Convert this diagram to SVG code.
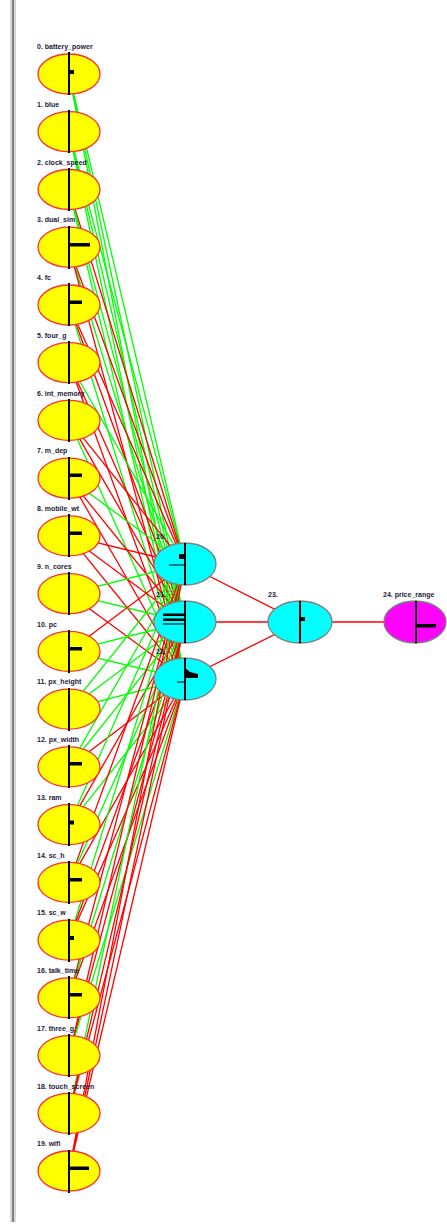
<svg xmlns="http://www.w3.org/2000/svg" width="447" height="1224" viewBox="0 0 447 1224">
<style>
.bg{fill:#ffffff}
.g{stroke:#00ff00;stroke-width:1.3;fill:none}
.r{stroke:#ff0000;stroke-width:1.3;fill:none}
.in{fill:#ffff00;stroke:#ff3030;stroke-width:1.3}
.hid{fill:#00ffff;stroke:#808080;stroke-width:1.3}
.out{fill:#ff00ff;stroke:#808080;stroke-width:1.3}
.v{stroke:#000;stroke-width:2}
.b{fill:#000}
.t{font-family:"Liberation Sans",Arial,sans-serif;font-size:7px;font-weight:bold;fill:#1a1a3a}
</style>
<rect class="bg" x="0" y="0" width="447" height="1224"/>
<rect x="10" y="0" width="6" height="1222" fill="#d8d8d8"/>
<line x1="13" y1="0" x2="13" y2="1222" stroke="#808080" stroke-width="2"/>
<g id="connectors">
<line class="g" x1="69" y1="74" x2="185" y2="564"/><line class="g" x1="69" y1="74" x2="185" y2="622"/><line class="g" x1="69" y1="74" x2="185" y2="679"/>
<line class="g" x1="69" y1="131.7" x2="185" y2="564"/><line class="g" x1="69" y1="131.7" x2="185" y2="622"/><line class="g" x1="69" y1="131.7" x2="185" y2="679"/>
<line class="r" x1="69" y1="189.5" x2="185" y2="564"/><line class="g" x1="69" y1="189.5" x2="185" y2="622"/><line class="g" x1="69" y1="189.5" x2="185" y2="679"/>
<line class="r" x1="69" y1="247.2" x2="185" y2="564"/><line class="g" x1="69" y1="247.2" x2="185" y2="622"/><line class="r" x1="69" y1="247.2" x2="185" y2="679"/>
<line class="r" x1="69" y1="305" x2="185" y2="564"/><line class="r" x1="69" y1="305" x2="185" y2="622"/><line class="g" x1="69" y1="305" x2="185" y2="679"/>
<line class="g" x1="69" y1="362.7" x2="185" y2="564"/><line class="r" x1="69" y1="362.7" x2="185" y2="622"/><line class="r" x1="69" y1="362.7" x2="185" y2="679"/>
<line class="r" x1="69" y1="420.4" x2="185" y2="564"/><line class="r" x1="69" y1="420.4" x2="185" y2="622"/><line class="g" x1="69" y1="420.4" x2="185" y2="679"/>
<line class="g" x1="69" y1="478.2" x2="185" y2="564"/><line class="r" x1="69" y1="478.2" x2="185" y2="622"/><line class="r" x1="69" y1="478.2" x2="185" y2="679"/>
<line class="r" x1="69" y1="535.9" x2="185" y2="564"/><line class="r" x1="69" y1="535.9" x2="185" y2="622"/><line class="r" x1="69" y1="535.9" x2="185" y2="679"/>
<line class="g" x1="69" y1="593.7" x2="185" y2="564"/><line class="g" x1="69" y1="593.7" x2="185" y2="622"/><line class="r" x1="69" y1="593.7" x2="185" y2="679"/>
<line class="r" x1="69" y1="651.4" x2="185" y2="564"/><line class="g" x1="69" y1="651.4" x2="185" y2="622"/><line class="g" x1="69" y1="651.4" x2="185" y2="679"/>
<line class="g" x1="69" y1="709.1" x2="185" y2="564"/><line class="g" x1="69" y1="709.1" x2="185" y2="622"/><line class="g" x1="69" y1="709.1" x2="185" y2="679"/>
<line class="g" x1="69" y1="766.9" x2="185" y2="564"/><line class="g" x1="69" y1="766.9" x2="185" y2="622"/><line class="r" x1="69" y1="766.9" x2="185" y2="679"/>
<line class="g" x1="69" y1="824.6" x2="185" y2="564"/><line class="r" x1="69" y1="824.6" x2="185" y2="622"/><line class="g" x1="69" y1="824.6" x2="185" y2="679"/>
<line class="r" x1="69" y1="882.4" x2="185" y2="564"/><line class="g" x1="69" y1="882.4" x2="185" y2="622"/><line class="r" x1="69" y1="882.4" x2="185" y2="679"/>
<line class="g" x1="69" y1="940.1" x2="185" y2="564"/><line class="r" x1="69" y1="940.1" x2="185" y2="622"/><line class="r" x1="69" y1="940.1" x2="185" y2="679"/>
<line class="r" x1="69" y1="997.8" x2="185" y2="564"/><line class="g" x1="69" y1="997.8" x2="185" y2="622"/><line class="r" x1="69" y1="997.8" x2="185" y2="679"/>
<line class="r" x1="69" y1="1055.6" x2="185" y2="564"/><line class="r" x1="69" y1="1055.6" x2="185" y2="622"/><line class="g" x1="69" y1="1055.6" x2="185" y2="679"/>
<line class="g" x1="69" y1="1113.3" x2="185" y2="564"/><line class="r" x1="69" y1="1113.3" x2="185" y2="622"/><line class="r" x1="69" y1="1113.3" x2="185" y2="679"/>
<line class="r" x1="69" y1="1171" x2="185" y2="564"/><line class="r" x1="69" y1="1171" x2="185" y2="622"/><line class="r" x1="69" y1="1171" x2="185" y2="679"/>
<line class="r" x1="185" y1="564" x2="300" y2="622"/><line class="r" x1="185" y1="622" x2="300" y2="622"/><line class="r" x1="185" y1="679" x2="300" y2="622"/>
<line class="r" x1="300" y1="622" x2="415" y2="622"/>
</g>
<g id="node0"><ellipse class="in" cx="69" cy="74" rx="31" ry="20"/><line class="v" x1="69" y1="52" x2="69" y2="95"/><rect class="b" x="69" y="70" width="5" height="4"/><text class="t" x="37" y="49">0. battery_power</text></g>
<g id="node1"><ellipse class="in" cx="69" cy="131.7" rx="31" ry="20"/><line class="v" x1="69" y1="110" x2="69" y2="153"/><text class="t" x="37" y="106.5">1. blue</text></g>
<g id="node2"><ellipse class="in" cx="69" cy="189.5" rx="31" ry="20"/><line class="v" x1="69" y1="168" x2="69" y2="211"/><text class="t" x="37" y="164.5">2. clock_speed</text></g>
<g id="node3"><ellipse class="in" cx="69" cy="247.2" rx="31" ry="20"/><line class="v" x1="69" y1="226" x2="69" y2="269"/><rect class="b" x="69" y="243" width="21" height="3.5"/><text class="t" x="37" y="222">3. dual_sim</text></g>
<g id="node4"><ellipse class="in" cx="69" cy="305" rx="31" ry="20"/><line class="v" x1="69" y1="283" x2="69" y2="326"/><rect class="b" x="69" y="300.5" width="13" height="3.5"/><text class="t" x="37" y="280">4. fc</text></g>
<g id="node5"><ellipse class="in" cx="69" cy="362.7" rx="31" ry="20"/><line class="v" x1="69" y1="341" x2="69" y2="384"/><text class="t" x="37" y="337.5">5. four_g</text></g>
<g id="node6"><ellipse class="in" cx="69" cy="420.4" rx="31" ry="20"/><line class="v" x1="69" y1="399" x2="69" y2="442"/><text class="t" x="37" y="395.5">6. int_memory</text></g>
<g id="node7"><ellipse class="in" cx="69" cy="478.2" rx="31" ry="20"/><line class="v" x1="69" y1="457" x2="69" y2="500"/><rect class="b" x="69" y="473.5" width="13" height="3.5"/><text class="t" x="37" y="453">7. m_dep</text></g>
<g id="node8"><ellipse class="in" cx="69" cy="535.9" rx="31" ry="20"/><line class="v" x1="69" y1="514" x2="69" y2="557"/><rect class="b" x="69" y="531.5" width="13" height="3.5"/><text class="t" x="37" y="511">8. mobile_wt</text></g>
<g id="node9"><ellipse class="in" cx="69" cy="593.7" rx="31" ry="20"/><line class="v" x1="69" y1="572" x2="69" y2="615"/><text class="t" x="37" y="568.5">9. n_cores</text></g>
<g id="node10"><ellipse class="in" cx="69" cy="651.4" rx="31" ry="20"/><line class="v" x1="69" y1="630" x2="69" y2="673"/><rect class="b" x="69" y="647" width="13" height="3.5"/><text class="t" x="37" y="626.5">10. pc</text></g>
<g id="node11"><ellipse class="in" cx="69" cy="709.1" rx="31" ry="20"/><line class="v" x1="69" y1="688" x2="69" y2="731"/><text class="t" x="37" y="684">11. px_height</text></g>
<g id="node12"><ellipse class="in" cx="69" cy="766.9" rx="31" ry="20"/><line class="v" x1="69" y1="745" x2="69" y2="788"/><rect class="b" x="69" y="762" width="13" height="3.5"/><text class="t" x="37" y="742">12. px_width</text></g>
<g id="node13"><ellipse class="in" cx="69" cy="824.6" rx="31" ry="20"/><line class="v" x1="69" y1="803" x2="69" y2="846"/><rect class="b" x="69" y="820.5" width="5" height="4"/><text class="t" x="37" y="799.5">13. ram</text></g>
<g id="node14"><ellipse class="in" cx="69" cy="882.4" rx="31" ry="20"/><line class="v" x1="69" y1="861" x2="69" y2="904"/><rect class="b" x="69" y="878" width="13" height="3.5"/><text class="t" x="37" y="857.5">14. sc_h</text></g>
<g id="node15"><ellipse class="in" cx="69" cy="940.1" rx="31" ry="20"/><line class="v" x1="69" y1="919" x2="69" y2="962"/><rect class="b" x="69" y="936" width="5" height="4"/><text class="t" x="37" y="915">15. sc_w</text></g>
<g id="node16"><ellipse class="in" cx="69" cy="997.8" rx="31" ry="20"/><line class="v" x1="69" y1="976" x2="69" y2="1019"/><rect class="b" x="69" y="993" width="13" height="3.5"/><text class="t" x="37" y="973">16. talk_time</text></g>
<g id="node17"><ellipse class="in" cx="69" cy="1055.6" rx="31" ry="20"/><line class="v" x1="69" y1="1034" x2="69" y2="1077"/><text class="t" x="37" y="1030.5">17. three_g</text></g>
<g id="node18"><ellipse class="in" cx="69" cy="1113.3" rx="31" ry="20"/><line class="v" x1="69" y1="1092" x2="69" y2="1135"/><text class="t" x="37" y="1088.5">18. touch_screen</text></g>
<g id="node19"><ellipse class="in" cx="69" cy="1171" rx="31" ry="20"/><line class="v" x1="69" y1="1150" x2="69" y2="1193"/><rect class="b" x="69" y="1166.5" width="20" height="3.5"/><text class="t" x="37" y="1146">19. wifi</text></g>
<g id="node20"><ellipse class="hid" cx="185" cy="564" rx="31" ry="21"/><line class="v" x1="185" y1="543" x2="185" y2="585"/><line x1="169" y1="565" x2="185" y2="565" stroke="#000" stroke-width="1"/><rect class="b" x="179" y="554" width="6" height="5"/><text class="t" x="156" y="539">20.</text></g>
<g id="node21"><ellipse class="hid" cx="185" cy="622" rx="31" ry="21"/><line class="v" x1="185" y1="601" x2="185" y2="643"/><rect class="b" x="163" y="613.5" width="22" height="2.5"/><rect class="b" x="163" y="618.5" width="22" height="2.5"/><line x1="163" y1="624" x2="185" y2="624" stroke="#000" stroke-width="1"/><text class="t" x="156" y="597">21.</text></g>
<g id="node22"><ellipse class="hid" cx="185" cy="679" rx="31" ry="21"/><line class="v" x1="185" y1="658" x2="185" y2="700"/><line x1="177" y1="682" x2="185" y2="682" stroke="#000" stroke-width="1"/><polygon class="b" points="185,668 190,672 198,674 198,678 185,678"/><text class="t" x="156" y="654">22.</text></g>
<g id="node23"><ellipse class="hid" cx="300" cy="622" rx="32" ry="21"/><line class="v" x1="300" y1="601" x2="300" y2="643"/><rect class="b" x="300" y="617" width="5" height="4"/><text class="t" x="268" y="597">23.</text></g>
<g id="node24"><ellipse class="out" cx="415" cy="622" rx="31" ry="21"/><line class="v" x1="416" y1="601" x2="416" y2="643"/><rect class="b" x="416" y="624" width="20" height="3.5"/><text class="t" x="383" y="597">24. price_range</text></g>
</svg>
